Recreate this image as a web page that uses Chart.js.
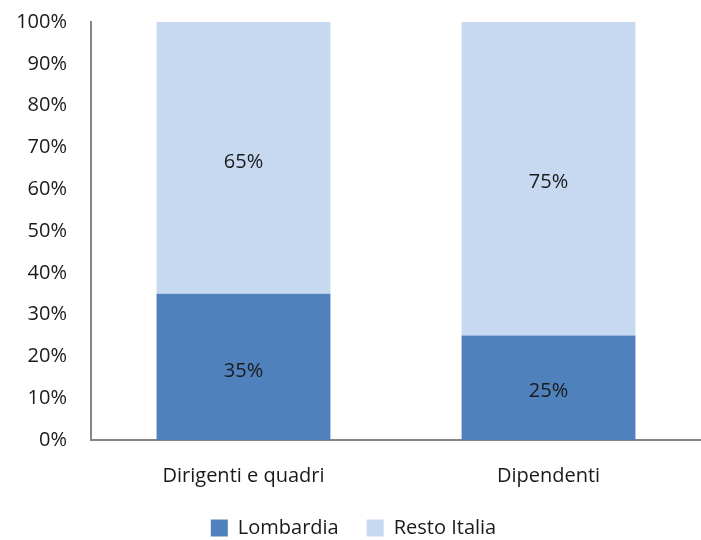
<!DOCTYPE html>
<html lang="it">
<head>
    <meta charset="UTF-8">
    <title>Lombardia vs Resto Italia</title>
    <script src="https://cdn.jsdelivr.net/npm/chart.js"></script>
    <style>
        html, body {
            margin: 0;
            padding: 0;
            background: #fff;
        }
        .wrap {
            width: 701px;
            height: 540px;
        }
    </style>
</head>
<body>
    <div class="wrap">
        <canvas id="chart" width="701" height="540"></canvas>
    </div>

    <script>
        // dati
        const categories = ['Dirigenti e quadri', 'Dipendenti'];
        const lombardia = [35, 25];
        const restoItalia = [65, 75];
        const yTicks = [0, 10, 20, 30, 40, 50, 60, 70, 80, 90, 100];

        const FONT = "'Open Sans', 'Liberation Sans', sans-serif";
        const SIZE = 20;

        // etichette dentro le barre
        const barLabels = {
            id: 'barLabels',
            afterDatasetsDraw(chart) {
                const ctx = chart.ctx;
                ctx.save();
                ctx.fillStyle = '#1a1a1a';
                ctx.font = SIZE + 'px ' + FONT;
                ctx.textAlign = 'center';
                ctx.textBaseline = 'middle';
                chart.data.datasets.forEach((ds, i) => {
                    chart.getDatasetMeta(i).data.forEach((bar, j) => {
                        const y = (bar.y + bar.base) / 2 + 4;
                        ctx.fillText(ds.data[j] + '%', bar.x, y);
                    });
                });
                ctx.restore();
            }
        };

        // legenda più bassa: togliamo un po' di altezza al box
        const legendTrim = {
            id: 'legendTrim',
            afterInit(chart) {
                const lg = chart.legend;
                if (!lg) return;
                const fit = lg.fit.bind(lg);
                lg.fit = function () {
                    fit();
                    this.height -= 8;
                };
            }
        };

        new Chart(document.getElementById('chart'), {
            type: 'bar',
            data: {
                labels: categories,
                datasets: [
                    {
                        label: 'Lombardia',
                        data: lombardia,
                        backgroundColor: '#4F81BD',
                        categoryPercentage: 0.57,
                        barPercentage: 1
                    },
                    {
                        label: 'Resto Italia',
                        data: restoItalia,
                        backgroundColor: '#C6D9F0',
                        categoryPercentage: 0.57,
                        barPercentage: 1
                    }
                ]
            },
            options: {
                responsive: false,
                animation: false,
                layout: {
                    padding: { top: 0, right: -6, bottom: 0, left: 0 }
                },
                scales: {
                    x: {
                        stacked: true,
                        grid: { display: false, drawTicks: false },
                        border: { color: '#868686', width: 2 },
                        afterFit(scale) {
                            scale.height = 50;
                            scale.paddingRight = 0;
                        },
                        ticks: {
                            color: '#1a1a1a',
                            font: { family: FONT, size: SIZE },
                            padding: 24
                        }
                    },
                    y: {
                        stacked: true,
                        min: 0,
                        max: 100,
                        afterBuildTicks(scale) {
                            scale.ticks = yTicks.map(v => ({ value: v }));
                        },
                        afterFit(scale) {
                            scale.width = 91;
                            scale.paddingTop = 22;
                            scale.paddingBottom = 0;
                        },
                        grid: { display: false, drawTicks: false },
                        border: { color: '#868686', width: 2 },
                        ticks: {
                            color: '#1a1a1a',
                            font: { family: FONT, size: SIZE },
                            padding: 24,
                            callback: v => v + '%'
                        }
                    }
                },
                plugins: {
                    legend: {
                        position: 'bottom',
                        labels: {
                            color: '#1a1a1a',
                            font: { family: FONT, size: SIZE },
                            boxWidth: 17,
                            boxHeight: 17,
                            padding: 28
                        }
                    },
                    tooltip: { enabled: false }
                }
            },
            plugins: [barLabels, legendTrim]
        });
    </script>
</body>
</html>
